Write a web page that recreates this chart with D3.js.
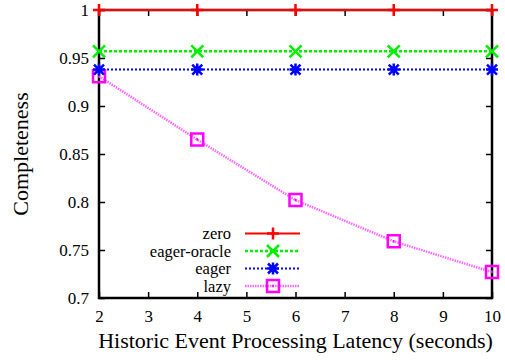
<!DOCTYPE html>
<html>
<head>
<meta charset="utf-8">
<script src="https://cdn.jsdelivr.net/npm/d3@7"></script>
</head>
<body style="margin:0;background:white">
<script>
var g_width = 505
var g_height = 360
var margin = {left: 99, right: 12, top: 10, bottom: 62}
var FONT = "Liberation Serif"

// data
var latencies = [2, 4, 6, 8, 10]
var zero = [1, 1, 1, 1, 1]
var eagerOracle = [0.957, 0.957, 0.957, 0.957, 0.957]
var eager = [0.938, 0.938, 0.938, 0.938, 0.938]
var lazy = [0.931, 0.865, 0.802, 0.759, 0.727]
var xTicks = [2, 3, 4, 5, 6, 7, 8, 9, 10]
var yTicks = [0.7, 0.75, 0.8, 0.85, 0.9, 0.95, 1]
var seriesNames = ["zero", "eager-oracle", "eager", "lazy"]

var series = [
    {name: seriesNames[0], values: zero, color: "#ff0000", line: "#ff0000", dash: null, width: 2, marker: "plus"},
    {name: seriesNames[1], values: eagerOracle, color: "#00ee00", line: "#00ee00", dash: "3,2", width: 2.5, marker: "cross"},
    {name: seriesNames[2], values: eager, color: "#0000ff", line: "#0000ff", dash: "2,2", width: 2, marker: "star"},
    {name: seriesNames[3], values: lazy, color: "#ff00ff", line: "#ff66ff", dash: "1.5,1", width: 2.5, marker: "square"}
]

var svg = d3.select("body").append("svg")
    .attr("width", g_width)
    .attr("height", g_height)
    .attr("font-family", FONT)
    .style("display", "block")

var xScale = d3.scaleLinear().domain([2, 10]).range([margin.left, g_width - margin.right - 1])
var yScale = d3.scaleLinear().domain([0.7, 1]).range([g_height - margin.bottom, margin.top])

var x0 = xScale.range()[0], x1 = xScale.range()[1]
var y0 = yScale.range()[0], y1 = yScale.range()[1]

// axes with inward ticks, mirrored
svg.append("g")
    .attr("transform", "translate(0," + y0 + ")")
    .call(d3.axisBottom(xScale).tickValues(xTicks).tickSize(-6).tickPadding(12).tickFormat(d3.format("d")))
    .call(g => g.select(".domain").remove())
svg.append("g")
    .attr("transform", "translate(0," + y1 + ")")
    .call(d3.axisTop(xScale).tickValues(xTicks).tickSize(-6).tickFormat(""))
    .call(g => g.select(".domain").remove())
svg.append("g")
    .attr("transform", "translate(" + x0 + ",0)")
    .call(d3.axisLeft(yScale).tickValues(yTicks).tickSize(-6).tickPadding(10).tickFormat(d => String(+d.toFixed(2))))
    .call(g => g.select(".domain").remove())
svg.append("g")
    .attr("transform", "translate(" + x1 + ",0)")
    .call(d3.axisRight(yScale).tickValues(yTicks).tickSize(-6).tickFormat(""))
    .call(g => g.select(".domain").remove())

svg.selectAll("g").attr("font-family", FONT)
svg.selectAll(".tick line").attr("stroke", "black").attr("stroke-width", 1.5)
svg.selectAll(".tick text").attr("font-size", 17).attr("fill", "black").attr("font-family", FONT)

function markerPath(type, cx, cy) {
    var p = d3.path()
    var s = 6
    if (type == "plus" || type == "star") {
        p.moveTo(cx - s, cy); p.lineTo(cx + s, cy)
        p.moveTo(cx, cy - s); p.lineTo(cx, cy + s)
    }
    if (type == "cross" || type == "star") {
        var k = type == "star" ? 5 : 6
        p.moveTo(cx - k, cy - k); p.lineTo(cx + k, cy + k)
        p.moveTo(cx - k, cy + k); p.lineTo(cx + k, cy - k)
    }
    if (type == "square") {
        p.rect(cx - 6, cy - 6, 12, 12)
        p.moveTo(cx - 0.8, cy); p.lineTo(cx + 0.8, cy)
    }
    return p.toString()
}

var line = d3.line().x((d, i) => xScale(latencies[i])).y(d => yScale(d))

// frame
svg.append("rect")
    .attr("x", x0).attr("y", y1)
    .attr("width", x1 - x0).attr("height", y0 - y1)
    .attr("fill", "none").attr("stroke", "black").attr("stroke-width", 2.5)

var plot = svg.append("g")
series.slice().reverse().forEach(function(s) {
    plot.append("path")
        .attr("d", line(s.values))
        .attr("fill", "none")
        .attr("stroke", s.line)
        .attr("stroke-width", s.width)
        .attr("stroke-dasharray", s.dash)
})
series.slice().reverse().forEach(function(s) {
    s.values.forEach(function(v, i) {
        plot.append("path")
            .attr("d", markerPath(s.marker, xScale(latencies[i]), yScale(v)))
            .attr("fill", "none")
            .attr("stroke", s.color)
            .attr("stroke-width", 2.5)
    })
})

// legend
var legend = svg.append("g")
series.forEach(function(s, i) {
    var ly = 233.5 + i * 17.5
    legend.append("text")
        .attr("x", 231).attr("y", ly + 5.5)
        .attr("text-anchor", "end")
        .attr("font-family", FONT)
        .attr("font-size", 16.5)
        .text(s.name)
    legend.append("line")
        .attr("x1", 245).attr("x2", 300)
        .attr("y1", ly).attr("y2", ly)
        .attr("stroke", s.line)
        .attr("stroke-width", s.width)
        .attr("stroke-dasharray", s.dash)
    legend.append("path")
        .attr("d", markerPath(s.marker, 273, ly))
        .attr("fill", "none")
        .attr("stroke", s.color)
        .attr("stroke-width", 2.5)
})

// axis titles
svg.append("text")
    .attr("x", (x0 + x1) / 2).attr("y", 348)
    .attr("text-anchor", "middle")
    .attr("font-family", FONT)
    .attr("font-size", 22)
    .text("Historic Event Processing Latency (seconds)")
svg.append("text")
    .attr("transform", "translate(28," + ((y0 + y1) / 2) + ") rotate(-90)")
    .attr("text-anchor", "middle")
    .attr("font-family", FONT)
    .attr("font-size", 22)
    .text("Completeness")
</script>
</body>
</html>
